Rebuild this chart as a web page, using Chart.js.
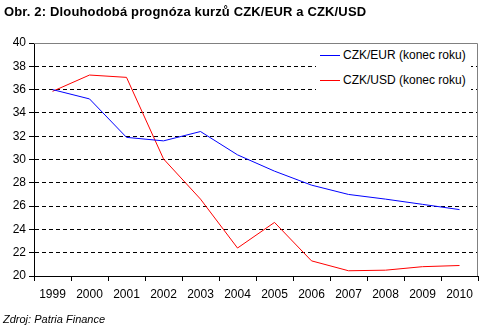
<!DOCTYPE html>
<html lang="cs">
<head>
<meta charset="UTF-8">
<title>Dlouhodobá prognóza kurzů</title>
<script src="https://cdn.jsdelivr.net/npm/chart.js"></script>
<style>
  html, body { margin: 0; padding: 0; background: #fff; }
  #wrap { position: relative; width: 484px; height: 332px; font-family: "Liberation Sans", Arial, sans-serif; }
  #title { position: absolute; left: 4px; top: 4px; font-size: 13px; letter-spacing: 0.15px; font-weight: bold; color: #000; white-space: nowrap; }
  #source { position: absolute; left: 3px; top: 313px; font-size: 11px; font-style: italic; color: #000; }
  #legend { position: absolute; left: 316px; top: 45px; width: 155px; height: 50px; background: #fff; font-size: 12px; }
  .item { position: absolute; left: 4px; height: 14px; line-height: 14px; white-space: nowrap; }
  .item span.sw { display: inline-block; width: 20px; height: 1px; vertical-align: middle; margin-right: 3px; }
  canvas { position: absolute; left: 0; top: 0; }
</style>
</head>
<body>
<div id="wrap">
  <canvas id="chart" width="484" height="332"></canvas>
  <div id="title">Obr. 2: Dlouhodobá prognóza kurzů CZK/EUR a CZK/USD</div>
  <div id="legend"></div>
  <div id="source">Zdroj: Patria Finance</div>
</div>
<script>
// data
const years = ['1999','2000','2001','2002','2003','2004','2005','2006','2007','2008','2009','2010'];
const eur = [36.0, 35.2, 31.9, 31.6, 32.4, 30.4, 29.0, 27.8, 27.0, 26.6, 26.15, 25.7];
const usd = [35.85, 37.25, 37.05, 30.05, 26.6, 22.4, 24.6, 21.3, 20.45, 20.5, 20.8, 20.9];
const seriesNames = ['CZK/EUR (konec roku)', 'CZK/USD (konec roku)'];
const seriesColors = ['#0000ff', '#ff0000'];

// legend in a white box over the plot
const legend = document.getElementById('legend');
seriesNames.forEach((name, i) => {
  const d = document.createElement('div');
  d.className = 'item';
  d.style.top = (3 + i * 25) + 'px';
  d.innerHTML = '<span class="sw" style="background:' + seriesColors[i] + '"></span>' + name;
  legend.appendChild(d);
});

// grey frame on top and right of the plot area
const frame = {
  id: 'frame',
  afterDraw(chart) {
    const { ctx, chartArea: a } = chart;
    ctx.save();
    ctx.strokeStyle = '#808080';
    ctx.lineWidth = 1;
    ctx.beginPath();
    ctx.moveTo(a.left, a.top + 0.5);
    ctx.lineTo(a.right - 0.5, a.top + 0.5);
    ctx.lineTo(a.right - 0.5, a.bottom);
    ctx.stroke();
    ctx.restore();
  }
};

Chart.defaults.font.family = '"Liberation Sans", Arial, sans-serif';
Chart.defaults.font.size = 12;
Chart.defaults.color = '#000';

new Chart(document.getElementById('chart'), {
  type: 'line',
  data: {
    labels: years,
    datasets: [
      { label: seriesNames[0], data: eur, borderColor: seriesColors[0], borderWidth: 1, pointRadius: 0, tension: 0 },
      { label: seriesNames[1], data: usd, borderColor: seriesColors[1], borderWidth: 1, pointRadius: 0, tension: 0 }
    ]
  },
  options: {
    responsive: false,
    animation: false,
    layout: { padding: { top: 43, right: 6, bottom: 0, left: 0 } },
    plugins: { legend: { display: false }, tooltip: { enabled: false } },
    scales: {
      x: {
        offset: true,
        afterFit(scale) { scale.height = 56; },
        grid: { offset: true, drawOnChartArea: false, color: '#000', tickLength: 5 },
        border: { color: '#000' },
        ticks: { maxRotation: 0, autoSkip: false, padding: 6 }
      },
      y: {
        min: 20,
        max: 40,
        afterFit(scale) { scale.width = 34; },
        ticks: { stepSize: 2, padding: 3 },
        grid: {
          color: (c) => (c.tick && (c.tick.value === 40 || c.tick.value === 20)) ? 'rgba(0,0,0,0)' : '#000',
          tickColor: '#000',
          tickLength: 5,
          tickBorderDash: []
        },
        border: { color: '#000', dash: [4, 3] }
      }
    }
  },
  plugins: [frame]
});
</script>
</body>
</html>
